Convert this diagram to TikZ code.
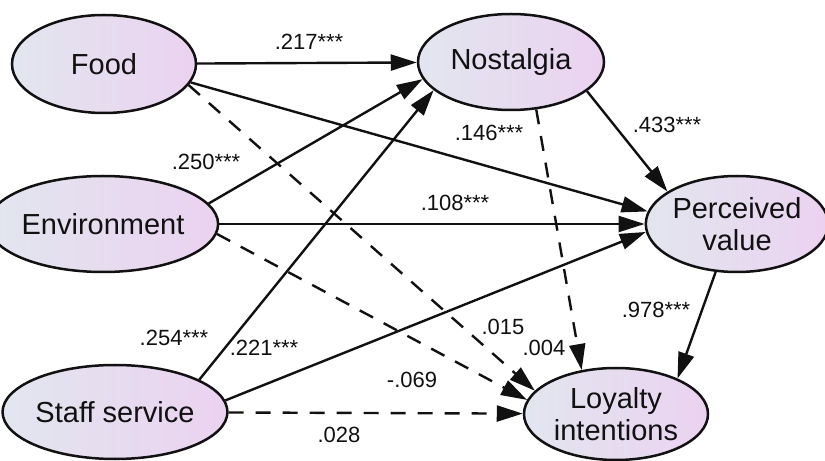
\documentclass[tikz,border=0pt]{standalone}
\usepackage{fontspec}
\setmainfont{Liberation Sans}
\usetikzlibrary{shapes.geometric,arrows.meta}
\definecolor{nodeL}{HTML}{E2E6EF}
\definecolor{nodeR}{HTML}{EBD2F0}
\definecolor{ink}{HTML}{111111}
\begin{document}
\begin{tikzpicture}[x=1bp,y=-1bp,
  latent/.style={ellipse, draw=ink, line width=2.5bp, left color=nodeL, right color=nodeR,
    inner sep=0pt, text=ink, font=\fontsize{29bp}{32bp}\selectfont, align=center},
  sarrow/.style={draw=ink, line width=2.4bp, -{Triangle[length=26bp,width=16bp]}},
  darrow/.style={sarrow, dash pattern=on 15bp off 12bp},
  coef/.style={font=\fontsize{22bp}{24bp}\selectfont, inner sep=0pt, text=ink}
]
\useasboundingbox[fill=white] (0,0) rectangle (825,461);

\node[latent, minimum width=184bp, minimum height=98bp] (food) at (104,64) {Food};
\node[latent, minimum width=186bp, minimum height=96bp] (nost) at (511,62) {Nostalgia};
\node[latent, minimum width=194bp, minimum height=96bp] (env) at (103,224) {Environment};
\node[latent, minimum width=184bp, minimum height=94bp] (staff) at (115,412) {Staff service};
\node[latent, minimum width=170bp, minimum height=96bp] (perc) at (737,224) {Perceived\\value};
\node[latent, minimum width=184bp, minimum height=92bp] (loy) at (616,414) {Loyalty\\intentions};

% solid paths
\draw[sarrow] (food) -- (nost);
\draw[sarrow] (food.-12) -- (perc.172);
\draw[sarrow] (env.11) -- (nost.191);
\draw[sarrow] (env) -- (perc);
\draw[sarrow] (staff.21) -- (nost.200);
\draw[sarrow] (staff.6) -- (perc.185);
\draw[sarrow] (nost.-21) -- (perc.155);
\draw[sarrow] (perc.-114) -- (loy.30);
% dashed paths
\draw[darrow] (food.-14) -- (loy.164);
\draw[darrow] (env.-5) -- (loy.171);
\draw[darrow] (staff) -- (loy);
\draw[darrow] (nost.-62) -- (loy.128);

% coefficients
\node[coef] (c1) at (309,42) {.217***};
\node[coef] (c2) at (489,133) {.146***};
\node[coef] (c3) at (667,125) {.433***};
\node[coef] (c4) at (455,203) {.108***};
\node[coef] (c5) at (206,162) {.250***};
\node[coef] (c6) at (174,338) {.254***};
\node[coef] (c7) at (264,348) {.221***};
\node[coef] (c8) at (412,380) {-.069};
\node[coef] (c9) at (339,435) {.028};
\node[coef] (c10) at (503,327) {.015};
\node[coef] (c11) at (544,348) {.004};
\node[coef] (c12) at (656,310) {.978***};
\end{tikzpicture}
\end{document}
